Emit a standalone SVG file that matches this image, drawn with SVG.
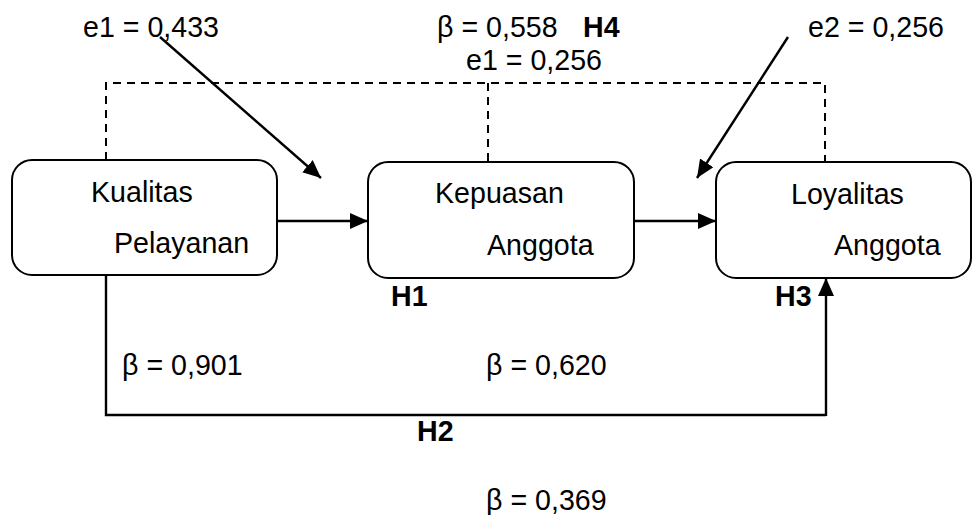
<svg xmlns="http://www.w3.org/2000/svg" width="973" height="515" viewBox="0 0 973 515">
  <style>
    text { font-family: "Liberation Sans", Arial, sans-serif; font-size: 28.6px; fill: #000; }
    .bold { font-weight: bold; }
    .box { fill: #fff; stroke: #000; stroke-width: 2; }
    .solid { fill: none; stroke: #000; stroke-width: 2.4; }
    .dash { fill: none; stroke: #000; stroke-width: 2; stroke-dasharray: 8 6; }
  </style>
  <defs>
    <marker id="arrow" markerUnits="userSpaceOnUse" markerWidth="19" markerHeight="17" refX="18" refY="8" orient="auto">
      <path d="M0,0 L18,8 L0,16 z" fill="#000"/>
    </marker>
  </defs>
  <rect width="973" height="515" fill="#fff"/>

  <g id="connectors">
    <!-- dashed H4 link over the top -->
    <path class="dash" d="M106,160 V83 H825 V162"/>
    <path class="dash" d="M488,83 V162"/>
    <!-- error terms -->
    <line class="solid" x1="160" y1="37" x2="321" y2="178" marker-end="url(#arrow)"/>
    <line class="solid" x1="788" y1="37" x2="697" y2="178" marker-end="url(#arrow)"/>
    <!-- H1 and H3 -->
    <line class="solid" x1="277" y1="221" x2="368" y2="221" marker-end="url(#arrow)"/>
    <line class="solid" x1="634" y1="221" x2="716" y2="221" marker-end="url(#arrow)"/>
    <!-- H2 direct path -->
    <path class="solid" d="M106,276 V415 H826"/>
    <line class="solid" x1="826" y1="416" x2="826" y2="278" marker-end="url(#arrow)"/>
  </g>

  <g id="kualitas-pelayanan">
    <rect class="box" x="12" y="160" width="265" height="115" rx="20"/>
    <text x="91" y="202">Kualitas</text>
    <text x="114" y="253">Pelayanan</text>
  </g>

  <g id="kepuasan-anggota">
    <rect class="box" x="368" y="162" width="266" height="116" rx="20"/>
    <text x="435" y="203">Kepuasan</text>
    <text x="487" y="255">Anggota</text>
  </g>

  <g id="loyalitas-anggota">
    <rect class="box" x="716" y="162" width="255" height="116" rx="20"/>
    <text x="791" y="204">Loyalitas</text>
    <text x="834" y="255">Anggota</text>
  </g>

  <g id="labels">
    <text x="83" y="37">e1 = 0,433</text>
    <text x="437" y="37">β = 0,558</text>
    <text class="bold" x="583" y="37">H4</text>
    <text x="466" y="70">e1 = 0,256</text>
    <text x="808" y="37">e2 = 0,256</text>
    <text class="bold" x="391" y="306">H1</text>
    <text class="bold" x="775" y="306">H3</text>
    <text class="bold" x="417" y="441">H2</text>
    <text x="122" y="375">β = 0,901</text>
    <text x="486" y="375">β = 0,620</text>
    <text x="486" y="510">β = 0,369</text>
  </g>
</svg>
